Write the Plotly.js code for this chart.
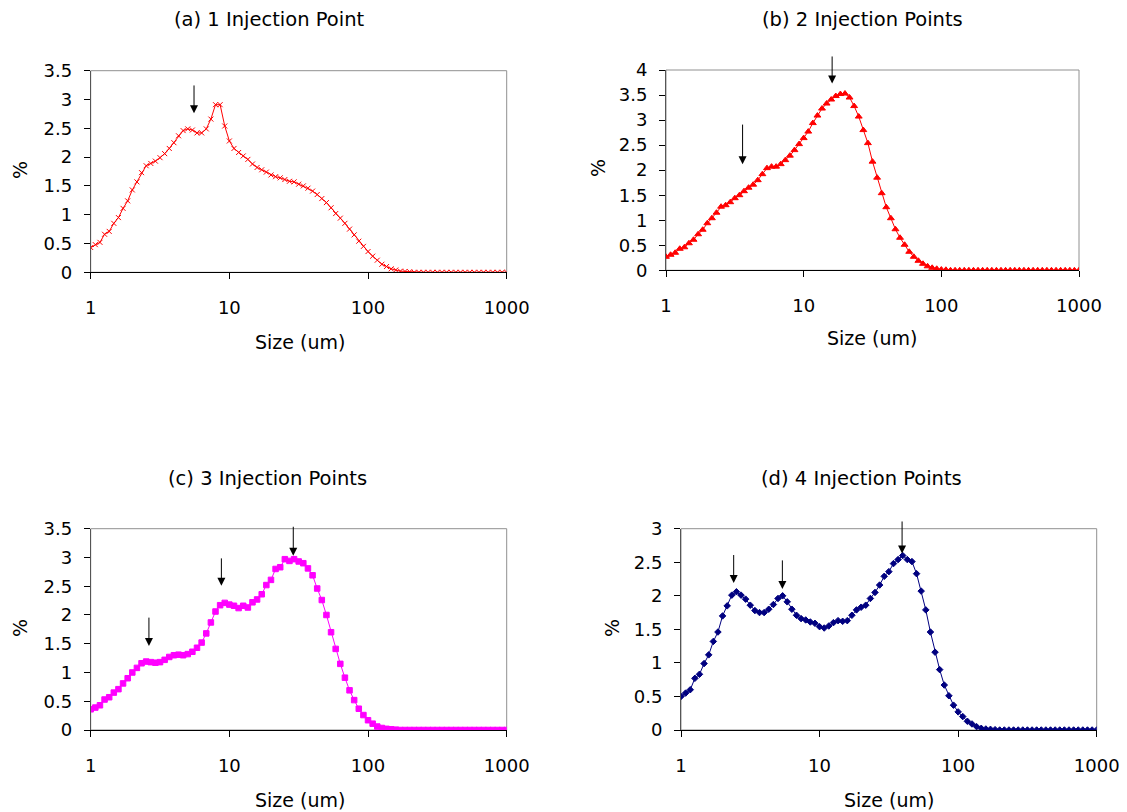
<!DOCTYPE html>
<html>
<head>
<meta charset="utf-8">
<script src="https://cdn.plot.ly/plotly-3.0.1.min.js"></script>
<style>html,body{margin:0;padding:0;background:#fff;}#chart{width:1127px;height:812px;}</style>
</head>
<body>
<div id="chart"></div>
<script>
// Size bins (um): 30 per decade from 1 to 1000
const sizeExp = [];
for (let i = 0; i <= 90; i++) sizeExp.push(i / 30);
const sizes = sizeExp.map(e => Math.pow(10, e));

// Volume percentages
const pct1Injection = [0.43,0.48,0.52,0.66,0.71,0.85,0.95,1.11,1.24,1.43,1.57,1.73,1.85,1.89,1.93,1.99,2.06,2.15,2.25,2.37,2.46,2.49,2.47,2.42,2.42,2.49,2.66,2.91,2.91,2.54,2.28,2.15,2.08,2.02,1.96,1.88,1.82,1.78,1.74,1.69,1.66,1.64,1.61,1.58,1.57,1.53,1.50,1.46,1.41,1.35,1.28,1.21,1.12,1.02,0.94,0.85,0.75,0.65,0.54,0.45,0.36,0.28,0.21,0.14,0.10,0.06,0.04,0.02,0.015,0.01,
  0,0,0,0,0,0,0,0,0,0,0,0,0,0,0,0,0,0,0,0,0];
const pct2Injection = [0.27,0.31,0.35,0.43,0.46,0.54,0.61,0.72,0.81,0.94,1.04,1.15,1.27,1.30,1.36,1.44,1.50,1.58,1.65,1.71,1.80,1.92,2.04,2.07,2.07,2.12,2.20,2.29,2.40,2.52,2.64,2.77,2.94,3.09,3.23,3.33,3.41,3.48,3.52,3.53,3.45,3.28,3.07,2.80,2.54,2.17,1.85,1.54,1.26,1.04,0.82,0.65,0.51,0.37,0.27,0.19,0.13,0.08,0.05,0.03,0.015,0.01,
  0,0,0,0,0,0,0,0,0,0,0,0,0,0,0,0,0,0,0,0,0,0,0,0,0,0,0,0,0];
const pct3Injection = [0.36,0.39,0.43,0.53,0.57,0.65,0.71,0.81,0.90,1.00,1.08,1.16,1.19,1.18,1.17,1.18,1.22,1.27,1.30,1.31,1.30,1.32,1.36,1.43,1.52,1.68,1.87,2.06,2.17,2.21,2.18,2.16,2.12,2.16,2.13,2.22,2.27,2.36,2.52,2.61,2.80,2.83,2.97,2.94,2.97,2.93,2.90,2.81,2.69,2.46,2.26,2.00,1.70,1.41,1.15,0.91,0.69,0.52,0.37,0.26,0.17,0.11,0.06,0.035,0.02,0.012,0.006,
  0,0,0,0,0,0,0,0,0,0,0,0,0,0,0,0,0,0,0,0,0,0,0,0];
const pct4Injection = [0.50,0.55,0.60,0.77,0.83,0.99,1.12,1.32,1.46,1.70,1.85,2.01,2.06,2.01,1.95,1.86,1.78,1.75,1.75,1.80,1.87,1.96,2.00,1.91,1.80,1.71,1.66,1.64,1.61,1.59,1.54,1.52,1.55,1.60,1.63,1.62,1.63,1.71,1.79,1.83,1.86,1.96,2.05,2.16,2.29,2.36,2.48,2.54,2.60,2.54,2.51,2.33,2.07,1.79,1.46,1.16,0.90,0.67,0.51,0.37,0.27,0.20,0.13,0.09,0.05,0.025,0.015,0.01,0.005,
  0,0,0,0,0,0,0,0,0,0,0,0,0,0,0,0,0,0,0,0,0,0];

const panelTitles = ["(a) 1 Injection Point", "(b) 2 Injection Points", "(c) 3 Injection Points", "(d) 4 Injection Points"];
const xTickVals = [1, 10, 100, 1000];
const xTickText = ["1", "10", "100", "1000"];
const yMax = [3.5, 4, 3.5, 3];

// Arrow markers: [size at arrow, y tail, y head]
const arrows1 = [[5.56, 3.27, 2.76]];
const arrows2 = [[3.6, 2.94, 2.12], [16.1, 4.3, 3.73]];
const arrows3 = [[2.63, 1.98, 1.46], [8.76, 3.01, 2.51], [28.9, 3.56, 3.03]];
const arrows4 = [[2.40, 2.63, 2.19], [5.39, 2.55, 2.10], [39.4, 3.13, 2.63]];

const W = 1127, H = 812;
const px = v => v / W;
const py = v => 1 - v / H;

// plot areas in pixels: [x0, x1, yTop, yBottom]
const boxes = [
  [90.7, 506.7, 70.7, 272.3],
  [666, 1079, 70, 270.3],
  [90.7, 506.7, 528.7, 730],
  [681, 1096.7, 528.7, 730]
];

const series = [pct1Injection, pct2Injection, pct3Injection, pct4Injection];
const colors = ["#FF0000", "#FF0000", "#FF00FF", "#000080"];
const symbols = ["x-thin", "triangle-up", "square", "diamond"];
const msizes = [5, 6, 5.5, 5];
const allArrows = [arrows1, arrows2, arrows3, arrows4];

const font = "DejaVu Sans, Arial, sans-serif";
const traces = [];
const layout = {
  width: W, height: H,
  margin: {l: 0, r: 0, t: 0, b: 0},
  paper_bgcolor: "#fff", plot_bgcolor: "#fff",
  showlegend: false,
  font: {family: font, size: 18, color: "#000"},
  annotations: [], shapes: []
};

// title / axis-title positions in pixels
const titlePos = [[269, 20], [862, 20], [267, 478], [861, 478]];
const xTitlePos = [[300, 342], [872, 338], [300, 800], [889, 800]];
const yTitlePos = [[20, 170], [598, 168], [20, 628], [612, 628]];

for (let k = 0; k < 4; k++) {
  const n = k === 0 ? "" : String(k + 1);
  const b = boxes[k];
  traces.push({
    x: sizes, y: series[k], type: "scatter", mode: "lines+markers",
    xaxis: "x" + n, yaxis: "y" + n,
    line: {color: colors[k], width: 1},
    marker: {symbol: symbols[k], size: msizes[k], color: colors[k], line: {color: colors[k], width: 1}},
    hoverinfo: "x+y"
  });
  layout["xaxis" + n] = {
    type: "log", range: [0, 3], domain: [px(b[0]), px(b[1])], anchor: "y" + n,
    tickvals: xTickVals, ticktext: xTickText, ticks: "outside", ticklen: 6, tickcolor: "#000",
    ticklabelstandoff: 13,
    showline: true, linecolor: "#000", linewidth: 1, showgrid: false, zeroline: false,
    tickfont: {family: font, size: 18, color: "#000"}
  };
  layout["yaxis" + n] = {
    range: [0, yMax[k]], domain: [py(b[3]), py(b[2])], anchor: "x" + n,
    dtick: 0.5, ticks: "outside", ticklen: 6, tickcolor: "#000",
    ticklabelstandoff: 8,
    showline: true, linecolor: "#555", linewidth: 1, showgrid: false, zeroline: false,
    tickfont: {family: font, size: 18, color: "#000"}
  };
  layout.shapes.push({
    type: "rect", xref: "paper", yref: "paper", layer: "below",
    x0: px(b[0]), x1: px(b[1]), y0: py(b[3]), y1: py(b[2]),
    line: {color: "#909090", width: 1}, fillcolor: "rgba(0,0,0,0)"
  });
  layout.annotations.push({
    text: panelTitles[k], xref: "paper", yref: "paper",
    x: px(titlePos[k][0]), y: py(titlePos[k][1]), xanchor: "center", yanchor: "middle",
    showarrow: false, font: {family: font, size: 19.5, color: "#000"}
  });
  layout.annotations.push({
    text: "Size (um)", xref: "paper", yref: "paper",
    x: px(xTitlePos[k][0]), y: py(xTitlePos[k][1]), xanchor: "center", yanchor: "middle",
    showarrow: false, font: {family: font, size: 19, color: "#000"}
  });
  layout.annotations.push({
    text: "%", xref: "paper", yref: "paper", textangle: -90,
    x: px(yTitlePos[k][0]), y: py(yTitlePos[k][1]), xanchor: "center", yanchor: "middle",
    showarrow: false, font: {family: font, size: 19, color: "#000"}
  });
  allArrows[k].forEach(a => {
    layout.annotations.push({
      xref: "x" + n, yref: "y" + n, axref: "x" + n, ayref: "y" + n,
      x: Math.log10(a[0]), y: a[2], ax: Math.log10(a[0]), ay: a[1],
      text: "", showarrow: true, arrowhead: 2, arrowsize: 1.6, arrowwidth: 1,
      arrowcolor: "#000", standoff: 0, startstandoff: 0
    });
  });
}

Plotly.newPlot("chart", traces, layout, {displayModeBar: false, staticPlot: true});
</script>
</body>
</html>
